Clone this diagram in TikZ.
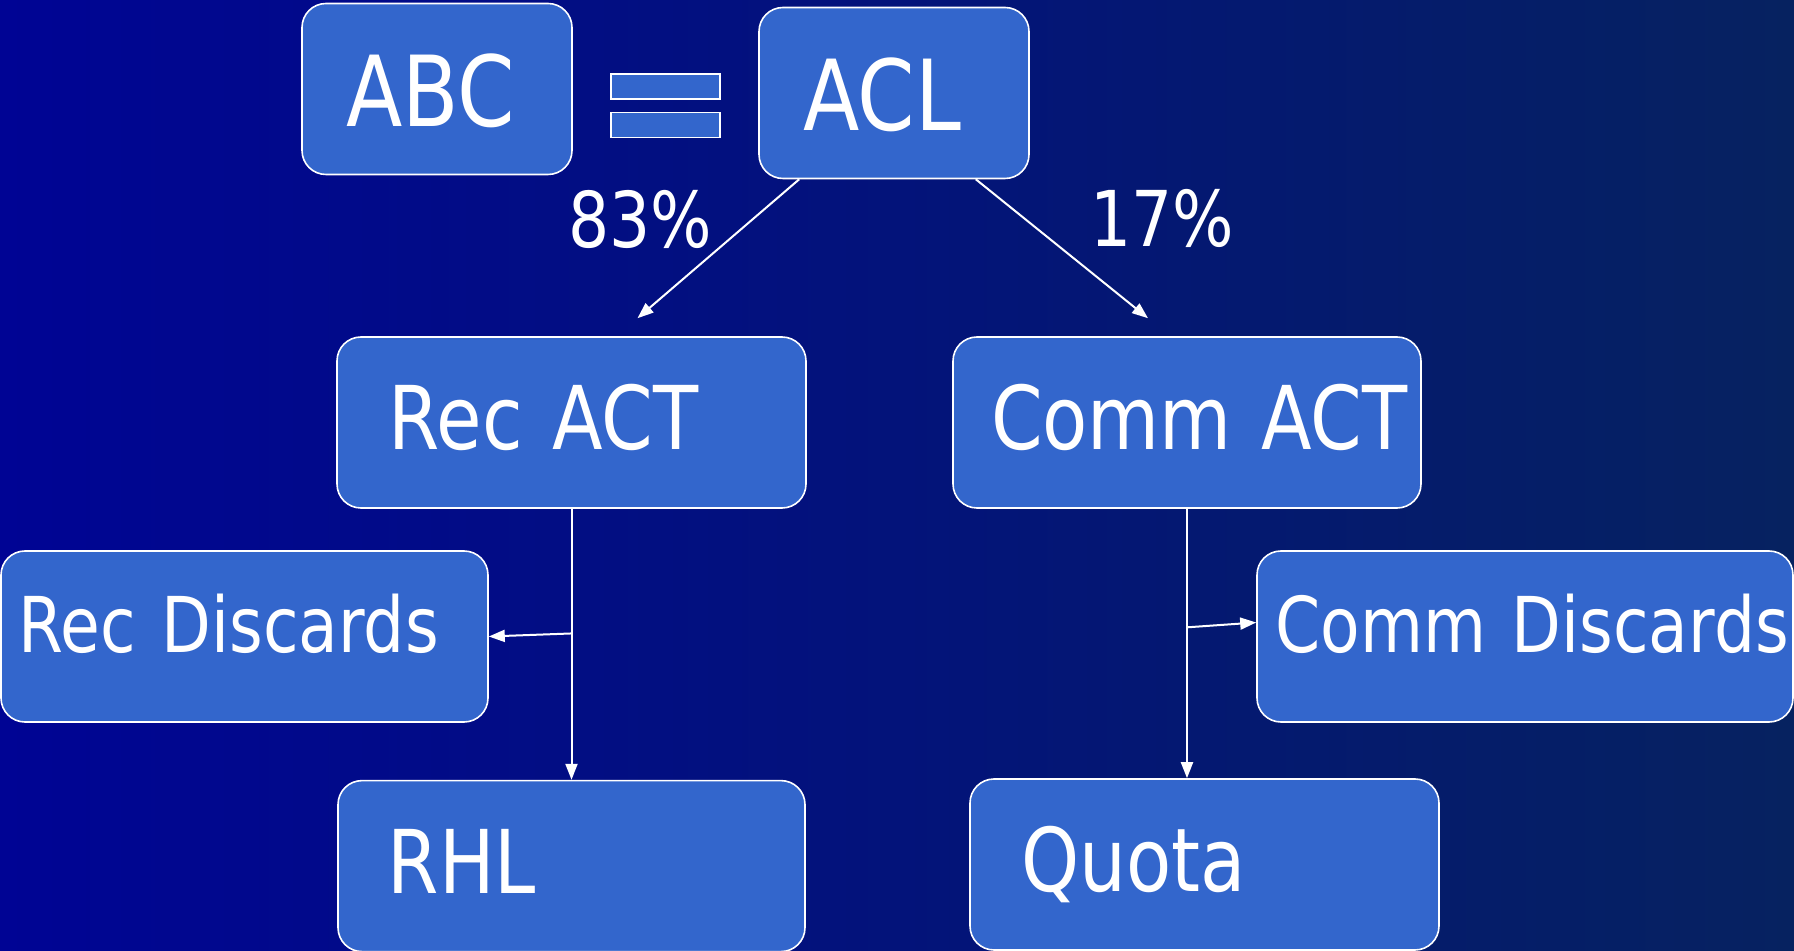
\documentclass[tikz,border=0pt]{standalone}
\usepackage{fontspec}
\setmainfont{DejaVu Sans}[FakeStretch=0.84]
\usetikzlibrary{positioning}
\usetikzlibrary{arrows.meta}

\definecolor{bgleft}{RGB}{0,4,148}
\definecolor{bgright}{RGB}{6,34,96}
\definecolor{boxblue}{RGB}{51,102,204}

\tikzset{
  box/.style={draw=white, line width=0.8pt, fill=boxblue, text=white, rounded corners=12pt, minimum height=85.5pt, inner ysep=0pt},
  toptxt/.style={font=\fontsize{49}{56}\selectfont, text height=38pt, text depth=0pt, align=left, text width=91pt, inner xsep=22pt},
  acttxt/.style={font=\fontsize{44}{52}\selectfont, text height=32pt, text depth=5pt, align=left},
  distxt/.style={font=\fontsize{38.5}{46}\selectfont, text height=28pt, text depth=11.5pt, align=left},
  share/.style={font=\fontsize{38.5}{46}\selectfont, text=white, anchor=base},
  flow/.style={draw=white, line width=1pt, -{Triangle[length=8pt,width=6pt]}}
}

\begin{document}
\begin{tikzpicture}[x=0.5pt,y=-0.5pt]
  % background
  \shade[left color=bgleft, right color=bgright] (0,0) rectangle (1794,951);
  \useasboundingbox (0,0) rectangle (1794,951);

  % top row
  \node[box,toptxt] (abc) at (437,89) {ABC};
  \node[box,toptxt] (acl) at (894,93) {ACL};
  \node[box,sharp corners,line width=0.6pt,minimum width=54.5pt,minimum height=12.5pt] (eqtop) at (665.5,86.5) {};
  \node[box,sharp corners,line width=0.6pt,minimum width=54.5pt,minimum height=12.5pt] (eqbot) [below=6pt of eqtop] {};

  % split
  \node[share] (recShare) at (640.5,248) {83\%};
  \node[share] (commShare) at (1162,247) {17\%};

  \node[box,acttxt,text width=182.7pt,inner xsep=25.9pt] (recAct) at (571.5,422.5) {Rec ACT};
  \node[box,acttxt,text width=196pt,inner xsep=19pt] (commAct) at (1187,422.5) {\mbox{Comm ACT}};

  \node[box,distxt,text width=225.8pt,inner xsep=8.85pt] (recDis) at (244.5,636.5) {\mbox{Rec Discards}};
  \node[box,distxt,text width=249.6pt,inner xsep=9.2pt] (commDis) at (1525,636.5) {\mbox{Comm Discards}};

  \node[box,acttxt,text width=183.7pt,inner xsep=24.9pt] (rhl) [below=135.5pt of recAct] {RHL};
  \node[box,acttxt,text width=183.5pt,inner xsep=25.5pt] (quota) at (1204.5,864.5) {Quota};

  % connectors
  \coordinate (recIn) at ([xshift=33pt,yshift=9pt]recAct.north);
  \coordinate (commIn) at ([xshift=-19.5pt,yshift=9pt]commAct.north);
  \draw[flow] ([xshift=20.5pt]acl.south west) -- (recIn);
  \draw[flow] ([xshift=-27pt]acl.south east) -- (commIn);

  \draw[flow] (recAct) -- (rhl);
  \path (recAct.south) -- (rhl.north) coordinate[pos=0.46] (recFork);
  \draw[flow] (recFork) -- (recDis.east);

  \draw[flow] (commAct.south) -- (commAct.south |- quota.north);
  \path (commAct.south) -- (commAct.south |- quota.north) coordinate[pos=0.44] (commFork);
  \draw[flow] (commFork) -- ([yshift=7pt]commDis.west);
\end{tikzpicture}
\end{document}
